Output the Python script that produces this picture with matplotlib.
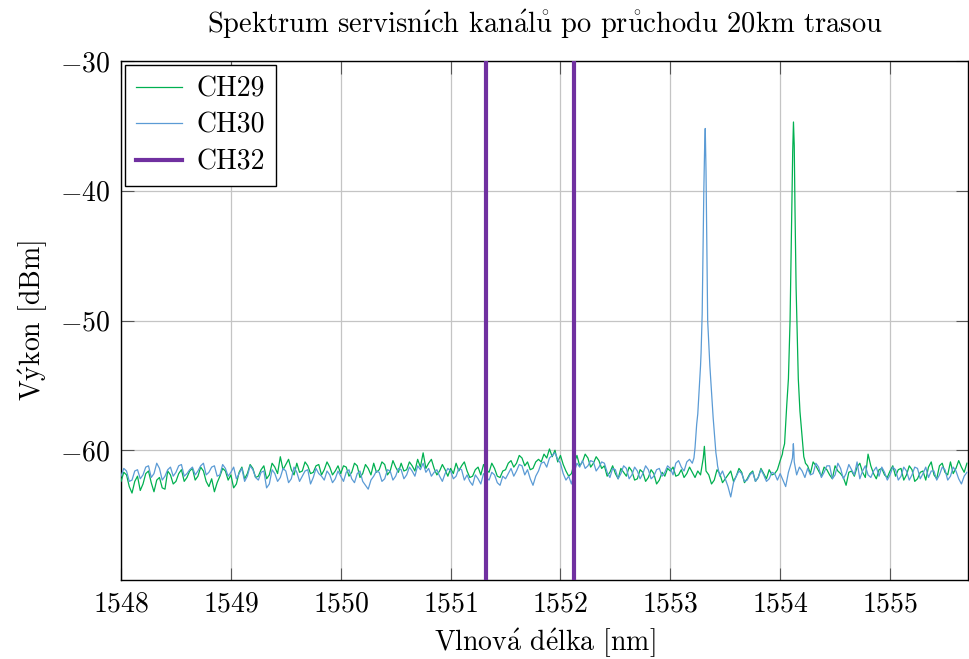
import numpy as np
import matplotlib
matplotlib.use("Agg")
import matplotlib.pyplot as plt

# --- OSA sweep grid [nm] ---
WL_START = 1548.0
WL_STEP  = 0.05
N_PTS    = 155
wavelength     = np.round(WL_START + WL_STEP * np.arange(N_PTS), 3)
wavelength_mid = np.round(wavelength[:-1] + WL_STEP / 2, 3)

# --- Channel levels on the sweep grid [dBm] ---
ch29_floor = [
    -62.4, -61.9, -63.3, -62.0, -62.6, -61.6, -63.2, -62.1, -63.0, -61.9,
    -62.4, -61.5, -62.1, -61.4, -62.0, -61.6, -62.8, -63.2, -62.0, -61.6,
    -61.9, -62.6, -61.3, -61.8, -61.4, -62.0, -61.2, -61.9, -61.3, -60.5,
    -61.1, -61.5, -61.0, -61.6, -61.2, -61.7, -61.1, -61.5, -61.3, -61.6,
    -61.8, -61.3, -61.7, -61.2, -61.8, -61.4, -61.0, -61.5, -61.1, -61.6,
    -61.3, -61.0, -61.5, -61.2, -60.7, -60.2, -61.0, -61.4, -61.6, -61.5,
    -61.4, -61.0, -61.2, -61.6, -62.0, -61.3, -61.1, -61.7, -61.4, -62.1,
    -61.5, -60.8, -61.0, -60.6, -60.9, -61.4, -60.7, -60.3, -59.9, -60.0,
    -60.4, -61.6, -61.8, -60.4, -60.9, -60.6, -61.0, -60.8, -61.2, -61.7,
    -61.8, -61.4, -62.0, -61.6, -62.2, -61.7, -62.1, -61.8, -62.3, -62.0,
    -61.6, -62.0, -61.5, -61.8, -61.7, -61.6, -60.6, -61.9, -62.3, -61.8,
    -62.2, -61.6, -62.0, -61.7, -62.2, -61.6, -62.1, -61.8, -61.5, -61.8,
    -60.8, -58.0, -44.7, -49.2, -59.0, -61.2, -60.9, -61.6, -61.3, -61.9,
    -61.2, -61.8, -62.7, -61.6, -61.3, -61.7, -60.3, -61.8, -61.5, -61.9,
    -61.6, -62.0, -61.4, -61.9, -61.5, -62.2, -61.6, -61.3, -61.9, -61.2,
    -61.7, -60.9, -61.4, -61.3, -61.0,
]
ch30_floor = [
    -62.0, -61.6, -62.3, -61.5, -61.9, -61.2, -61.8, -61.4, -62.0, -61.3,
    -61.7, -61.1, -61.8, -61.3, -61.6, -61.0, -61.7, -61.2, -61.9, -61.4,
    -61.7, -62.2, -61.4, -62.0, -61.5, -62.3, -61.6, -62.6, -61.8, -62.1,
    -61.6, -62.2, -61.7, -62.0, -61.5, -62.1, -61.8, -62.3, -61.9, -62.2,
    -62.0, -61.7, -62.2, -61.8, -62.4, -63.0, -62.0, -61.7, -62.2, -61.6,
    -62.0, -61.5, -61.9, -61.6, -61.2, -61.0, -61.4, -61.7, -62.0, -61.8,
    -61.6, -62.0, -61.5, -61.9, -62.7, -62.2, -61.8, -62.3, -61.9, -62.7,
    -62.2, -61.4, -61.6, -61.2, -61.5, -62.7, -61.6, -60.9, -60.6, -60.2,
    -61.0, -62.3, -62.6, -61.0, -60.8, -61.2, -60.9, -61.3, -61.0, -62.1,
    -61.5, -61.8, -61.4, -61.9, -61.6, -61.8, -61.5, -62.0, -61.4, -61.7,
    -61.4, -61.0, -61.3, -60.9, -61.0, -57.2, -43.2, -51.8, -58.6, -62.0,
    -62.2, -63.6, -62.0, -61.8, -62.3, -61.7, -62.1, -61.9, -62.2, -61.8,
    -61.8, -62.8, -61.0, -61.9, -61.6, -61.4, -61.8, -61.3, -61.7, -61.2,
    -61.9, -61.4, -61.8, -61.5, -60.9, -61.6, -61.9, -61.6, -62.0, -61.7,
    -61.9, -61.5, -62.0, -61.6, -61.9, -61.4, -61.8, -62.1, -61.6, -61.9,
    -61.5, -62.0, -61.6, -62.6, -61.7,
]

# --- Levels half-way between the grid points [dBm] ---
ch29_mid = [
    -61.7, -62.8, -62.4, -63.1, -61.8, -62.5, -62.3, -62.9, -61.6, -62.6,
    -61.8, -62.4, -61.6, -62.3, -61.3, -62.4, -62.2, -62.5, -61.4, -62.3,
    -62.9, -61.7, -62.2, -61.1, -62.1, -61.5, -62.2, -61.0, -61.8, -61.5,
    -60.7, -61.9, -61.7, -60.9, -61.8, -61.2, -61.9, -60.9, -61.9, -61.2,
    -61.2, -62.0, -61.0, -62.1, -61.1, -61.9, -61.7, -60.9, -61.9, -60.8,
    -61.7, -61.6, -60.9, -61.6, -61.3, -61.4, -60.7, -61.9, -61.1, -62.0,
    -61.8, -61.6, -60.9, -62.1, -61.5, -61.9, -61.5, -61.0, -62.0, -61.6,
    -61.0, -61.3, -60.4, -61.2, -61.5, -60.9, -60.9, -60.6, -60.5, -60.9,
    -61.1, -62.0, -61.0, -61.2, -60.3, -61.3, -60.5, -61.4, -62.0, -61.2,
    -62.2, -61.7, -61.3, -62.3, -61.5, -62.4, -61.5, -62.6, -61.7, -61.4,
    -61.3, -61.9, -62.1, -61.3, -62.1, -61.9, -61.6, -62.6, -61.5, -62.5,
    -61.9, -62.4, -61.4, -62.5, -61.8, -62.4, -61.4, -62.2, -61.9, -61.5,
    -60.0, -54.5, -35.6, -56.2, -60.8, -61.8, -61.2, -62.0, -61.5, -62.2,
    -61.6, -62.1, -61.7, -62.0, -61.0, -62.1, -61.2, -62.2, -61.4, -62.1,
    -61.2, -61.5, -62.3, -61.2, -62.4, -61.7, -62.3, -60.9, -62.2, -61.0,
    -61.9, -61.8, -60.8, -61.7,
]
ch30_mid = [
    -61.4, -62.4, -61.6, -62.2, -61.3, -62.1, -61.0, -62.3, -61.5, -62.0,
    -61.2, -62.0, -61.5, -61.9, -61.2, -61.9, -61.3, -62.0, -61.1, -62.0,
    -61.3, -61.8, -62.4, -61.2, -62.1, -61.7, -62.9, -61.5, -62.4, -61.4,
    -62.5, -61.3, -62.4, -61.6, -62.6, -61.4, -62.0, -61.6, -62.5, -61.6,
    -62.4, -61.5, -62.5, -61.6, -62.7, -62.3, -61.6, -62.4, -61.5, -62.3,
    -61.4, -62.2, -61.3, -62.0, -61.5, -61.7, -62.0, -61.5, -62.4, -61.4,
    -62.2, -61.4, -62.3, -62.4, -61.9, -62.6, -62.1, -61.7, -62.5, -62.0,
    -61.8, -62.0, -61.1, -61.9, -62.2, -62.0, -61.0, -61.3, -60.4, -60.7,
    -61.8, -62.0, -61.7, -61.3, -61.4, -60.8, -61.6, -60.9, -61.7, -61.4,
    -62.2, -61.2, -62.2, -61.3, -62.2, -61.2, -62.2, -61.5, -62.0, -61.2,
    -61.9, -60.8, -61.6, -60.7, -59.8, -53.5, -38.5, -55.5, -60.8, -61.6,
    -62.8, -62.5, -61.6, -62.4, -61.9, -62.4, -61.5, -62.4, -61.7, -62.3,
    -62.3, -61.7, -60.2, -61.3, -62.1, -61.9, -61.0, -62.1, -61.2, -62.2,
    -61.0, -62.2, -61.1, -61.9, -62.2, -61.2, -62.1, -61.3, -61.3, -62.3,
    -61.3, -62.3, -61.3, -62.3, -61.3, -62.2, -61.3, -61.6, -62.3, -61.3,
    -62.3, -61.3, -62.2, -62.0,
]

# --- Finer samples on the carrier peaks (and the CH30 bump at 1553.31) ---
ch29_peak_wl  = [1553.31, 1554.02, 1554.04, 1554.06, 1554.09, 1554.105,
                 1554.114, 1554.121, 1554.128, 1554.135, 1554.145, 1554.165,
                 1554.18, 1554.215, 1554.23]
ch29_peak_dbm = [-59.7, -60.3, -59.5, -56.5, -50.0, -42.0,
                 -37.0, -34.7, -36.5, -41.5, -47.5, -54.5,
                 -57.0, -60.5, -61.0]
ch30_peak_wl  = [1553.215, 1553.24, 1553.265, 1553.28, 1553.29, 1553.305,
                 1553.312, 1553.318, 1553.332, 1553.34, 1553.36, 1553.39,
                 1553.415, 1553.43, 1554.112, 1554.12, 1554.128]
ch30_peak_dbm = [-60.6, -58.0, -55.0, -52.5, -49.5, -40.0,
                 -36.8, -35.2, -44.0, -50.0, -53.5, -57.5,
                 -60.2, -61.2, -60.6, -59.5, -60.9]

# CH32 lies outside the displayed power range -> only its wavelengths show
ch32_wl = [1551.32, 1552.12]

C_GREEN  = "#00b050"
C_BLUE   = "#5b9bd5"
C_PURPLE = "#7030a0"


def merge(*parts):
    # parts: (wavelengths, levels) pairs -> one trace sorted by wavelength
    x = np.concatenate([np.asarray(p[0], float) for p in parts])
    y = np.concatenate([np.asarray(p[1], float) for p in parts])
    order = np.argsort(x, kind="stable")
    return x[order], y[order]


plt.rcParams["font.family"]      = ["cmr10", "DejaVu Serif"]
plt.rcParams["mathtext.fontset"] = "cm"
plt.rcParams["axes.formatter.use_mathtext"] = True
plt.rcParams["font.size"]        = 20

fig = plt.figure(figsize=(9.69, 6.59), dpi=100)
ax  = fig.add_axes([0.1249, 0.1199, 0.8741, 0.7875])

x29, y29 = merge((wavelength, ch29_floor), (wavelength_mid, ch29_mid),
                 (ch29_peak_wl, ch29_peak_dbm))
x30, y30 = merge((wavelength, ch30_floor), (wavelength_mid, ch30_mid),
                 (ch30_peak_wl, ch30_peak_dbm))

ax.plot(x29, y29, color=C_GREEN, lw=0.9, label="CH29", zorder=3)
ax.plot(x30, y30, color=C_BLUE,  lw=0.9, label="CH30", zorder=4)
for i, w in enumerate(ch32_wl):
    ax.axvline(w, color=C_PURPLE, lw=3.0, zorder=5,
               label="CH32" if i == 0 else None)

ax.set_xlim(1548.0, 1555.71)
ax.set_ylim(-70, -30)
ax.set_xticks(np.arange(1548, 1556))
ax.set_yticks([-60, -50, -40, -30])
ax.grid(True, color="#c4c4c4", lw=0.9)
ax.set_axisbelow(True)
ax.tick_params(direction="in", length=9, width=0.8, top=True, right=True,
               pad=8, color="#555555")
for s in ax.spines.values():
    s.set_linewidth(1.0)

ax.set_title(r"Spektrum servisn$\mathrm{\acute{ı}}$ch "
             r"kan$\mathrm{\acute{a}}$l$\mathrm{\mathring{u}}$ po "
             r"pr$\mathrm{\mathring{u}}$chodu 20km trasou",
             fontsize=20.5, pad=20)
ax.set_xlabel(r"Vlnov$\mathrm{\acute{a}}$ d$\mathrm{\acute{e}}$lka [nm]",
              labelpad=6)
ax.set_ylabel(r"V$\mathrm{\acute{y}}$kon [dBm]", labelpad=8)

leg = ax.legend(loc="upper left", fancybox=False, edgecolor="black",
                framealpha=1, handlelength=1.65, borderaxespad=0.15,
                borderpad=0.4, labelspacing=0.36, handletextpad=0.5)
leg.get_frame().set_linewidth(1.0)

fig.savefig("out.png", dpi=100)
